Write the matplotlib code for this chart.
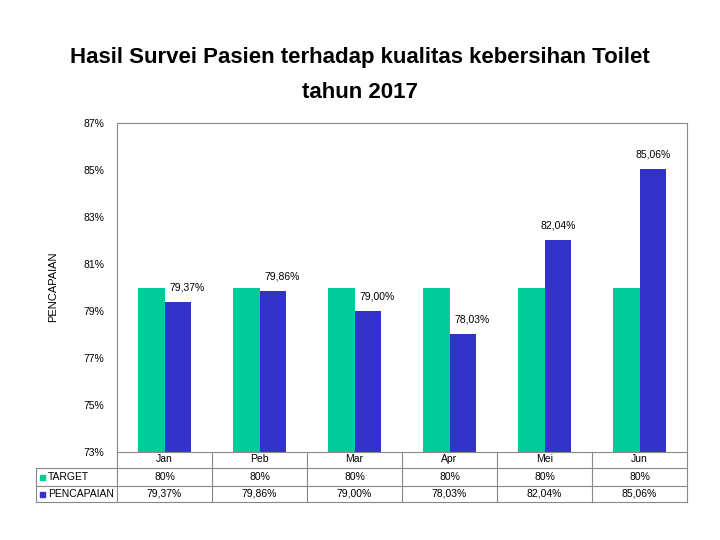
import matplotlib
matplotlib.use("Agg")
import matplotlib.pyplot as plt
from matplotlib.lines import Line2D
from matplotlib.patches import Rectangle

categories = ["Jan", "Peb", "Mar", "Apr", "Mei", "Jun"]
target = [80, 80, 80, 80, 80, 80]
pencapaian = [79.37, 79.86, 79.00, 78.03, 82.04, 85.06]
target_labels = ["80%"] * 6
pencapaian_labels = ["79,37%", "79,86%", "79,00%", "78,03%", "82,04%", "85,06%"]
yticks = [73, 75, 77, 79, 81, 83, 85, 87]

W, H = 720, 540
plt.rcParams["font.family"] = "Liberation Sans"
fig = plt.figure(figsize=(7.2, 5.4), dpi=100)
def fx(x): return x / W
def fy(y): return 1 - y / H

L, R, T, B = 117, 687, 123, 452
ax = fig.add_axes([fx(L), fy(B), fx(R) - fx(L), fy(T) - fy(B)])
c_t, c_p = "#00CC99", "#3333CC"
xs = list(range(6))
w = 0.28
ax.bar([x - w / 2 for x in xs], target, w, color=c_t)
ax.bar([x + w / 2 for x in xs], pencapaian, w, color=c_p)
ax.set_xlim(-0.5, 5.5)
ax.set_ylim(73, 87)
ax.set_yticks(yticks)
ax.set_yticklabels([f"{v}%" for v in yticks], fontsize=7.5)
ax.set_xticks([])
ax.tick_params(axis="y", length=0, pad=9)
for s in ax.spines.values():
    s.set_color("#888888"); s.set_linewidth(0.8)
for x, v, lab in zip(xs, pencapaian, pencapaian_labels):
    ax.text(x + w / 2 + (0.1 if v < 80 else 0), v + 0.4, lab, ha="center", va="bottom", fontsize=7.5)
fig.text(fx(53), fy(287), "PENCAPAIAN", rotation=90, ha="center", va="center", fontsize=8)
fig.text(fx(360), fy(58), "Hasil Survei Pasien terhadap kualitas kebersihan Toilet", ha="center", va="center", fontsize=16, fontweight="bold")
fig.text(fx(360), fy(92), "tahun 2017", ha="center", va="center", fontsize=16, fontweight="bold")

# data table
gc = "#888888"
def hline(y, x0, x1):
    fig.add_artist(Line2D([fx(x0), fx(x1)], [fy(y), fy(y)], color=gc, lw=0.8))
def vline(x, y0, y1):
    fig.add_artist(Line2D([fx(x), fx(x)], [fy(y0), fy(y1)], color=gc, lw=0.8))
hline(468, 36, R); hline(486, 36, R); hline(502, 36, R)
vline(36, 468, 502)
cw = (R - L) / 6
for i in range(7):
    vline(L + i * cw, 452, 502)
for i, c in enumerate(categories):
    cx = L + (i + 0.5) * cw
    fig.text(fx(cx), fy(459), c, ha="center", va="center", fontsize=7.5)
    fig.text(fx(cx), fy(477), target_labels[i], ha="center", va="center", fontsize=7.5)
    fig.text(fx(cx), fy(494), pencapaian_labels[i], ha="center", va="center", fontsize=7.5)
for y, c, lab in [(477, c_t, "TARGET"), (494, c_p, "PENCAPAIAN")]:
    fig.add_artist(Rectangle((fx(40), fy(y + 2.5)), fx(5), 5 / H, color=c))
    fig.text(fx(48), fy(y), lab, ha="left", va="center", fontsize=7.5)

fig.savefig("out.png", dpi=100)
